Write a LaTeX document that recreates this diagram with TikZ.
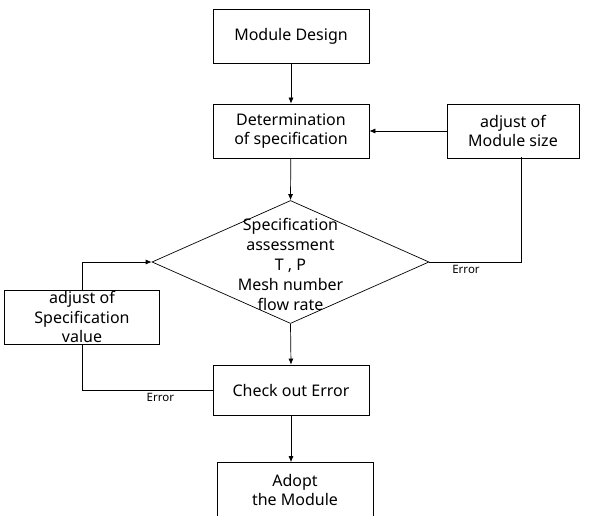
\documentclass[tikz,border=0pt]{standalone}
\usepackage{fontspec}
\setmainfont{Noto Sans}
\usetikzlibrary{shapes.geometric,arrows.meta}

\begin{document}
\begin{tikzpicture}[x=1pt,y=-1pt,line width=0.7pt,
    box/.style={draw,minimum width=156pt,minimum height=54pt,inner sep=0pt,align=center,
      font=\fontsize{16}{19.5}\selectfont},
    arr/.style={-{Latex[length=6pt,width=5pt]}},
    errlabel/.style={font=\fontsize{11.5}{12}\selectfont\bfseries}]
      \useasboundingbox (0,0) rectangle (600,516);
      \node[box] (design) at (291,36) {Module Design};
      \node[box] (spec) at (291,131) {Determination\\of specification};
      \node[box,minimum width=132pt] (sizeadj) at (513,131) {adjust of\\Module size};
      \node[draw,diamond,minimum width=277pt,minimum height=123pt,inner sep=0pt] (assess) at (290.5,262) {};
      \node[align=center,font=\fontsize{16}{20}\selectfont] at (290.5,264) {Specification\\assessment\\T , P\\Mesh number\\flow rate};
      \node[box,minimum width=155pt] (valadj) at (82,317) {adjust of\\Specification\\value};
      \node[box,minimum height=50pt] (check) at (291,390) {Check out Error};
      \node[box,minimum height=55pt] (adopt) at (295,490) {Adopt\\the Module};
      \coordinate (sizedrop) at (521,157);
      \draw[arr] (design) -- (spec);
      \draw[arr] (spec) -- (assess.north);
      \draw[arr] (sizeadj.west) -- (spec.east);
      \draw (sizedrop) |- (assess.east) node[errlabel,pos=0.8,below=0pt] {Error};
      \draw[arr] (valadj.north) |- (assess.west);
      \draw (check.west) -| (valadj.south) node[errlabel,pos=0.2,below=0pt] {Error};
      \draw[arr] (assess.south) -- (check.north);
      \draw[arr] (check.south) -- (check.south |- adopt.north);
    \end{tikzpicture}
\end{document}
